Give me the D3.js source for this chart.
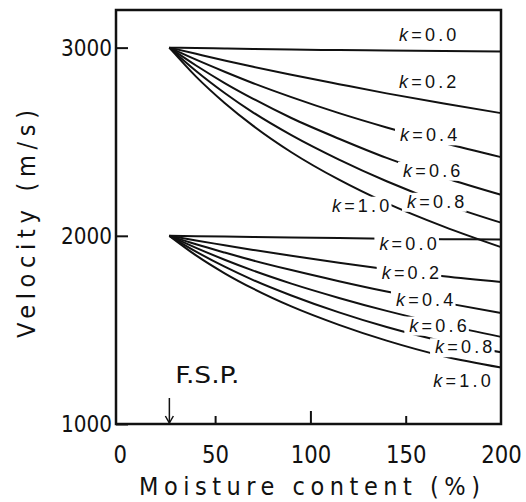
<!DOCTYPE html>
<html lang="en">
<head>
  <meta charset="UTF-8">
  <title>Velocity vs moisture content</title>
  <script src="https://cdn.jsdelivr.net/npm/d3@7"></script>
  <style>
    body { margin: 0; background: #fff; }
    .axis text, .title, .fsp {
      font-family: "DejaVu Sans Condensed", "Liberation Sans Narrow", "DejaVu Sans", sans-serif;
      fill: #111;
    }
    .klabel {
      font-family: "Liberation Sans", Arial, sans-serif;
      font-size: 18px;
      letter-spacing: 3.2px;
      fill: #111;
    }
    .curve { fill: none; stroke: #111; stroke-width: 2; stroke-linejoin: round; }
  </style>
</head>
<body>
<div id="chart"></div>
<script>
// moisture content (%) where the curves are sampled, from F.S.P. up to 200
var moisture = [26, 40, 55, 70, 90, 115, 140, 170, 200];
var fsp = 26;
var kValues = ["0.0", "0.2", "0.4", "0.6", "0.8", "1.0"];

// velocity (m/s), upper family starts at 3000, lower at 2000
var upperCurves = [
  [3000, 2998, 2995, 2993, 2990, 2987, 2985, 2982, 2979],
  [3000, 2967, 2932, 2898, 2856, 2806, 2757, 2703, 2652],
  [3000, 2936, 2872, 2811, 2737, 2652, 2576, 2493, 2418],
  [3000, 2905, 2812, 2728, 2626, 2516, 2414, 2310, 2218],
  [3000, 2876, 2759, 2655, 2535, 2405, 2290, 2170, 2070],
  [3000, 2846, 2706, 2584, 2444, 2298, 2174, 2049, 1940]
];
var lowerCurves = [
  [2000, 1998, 1996, 1994, 1991, 1988, 1985, 1982, 1980],
  [2000, 1975, 1950, 1925, 1894, 1857, 1822, 1785, 1755],
  [2000, 1955, 1911, 1869, 1818, 1759, 1704, 1645, 1590],
  [2000, 1936, 1873, 1815, 1746, 1670, 1601, 1528, 1463],
  [2000, 1916, 1836, 1765, 1683, 1593, 1515, 1438, 1381],
  [2000, 1896, 1801, 1719, 1625, 1527, 1443, 1360, 1300]
];

var xTicks = [0, 50, 100, 150, 200];
var yTicks = [1000, 2000, 3000];

// where the k labels sit (moisture, velocity of baseline)
var upperLabelAt = [[146.5, 3034], [146.5, 2787], [147, 2502], [148.6, 2314], [150.7, 2149], [111.3, 2128]];
var lowerLabelAt = [[136.2, 1926], [137.4, 1770], [144.9, 1628], [151.9, 1491], [165.4, 1376], [164.5, 1198]];

var margin = {top: 10, right: 25, bottom: 78, left: 116},
    width = 526 - margin.left - margin.right,
    height = 502 - margin.top - margin.bottom;

var svg = d3.select("#chart")
  .append("svg")
    .attr("width", 526)
    .attr("height", 502)
  .append("g")
    .attr("transform", "translate(" + margin.left + "," + margin.top + ")");

var x = d3.scaleLinear().domain([-2, 200]).range([0, width]);
var y = d3.scaleLinear().domain([1000, 3200]).range([height, 0]);

var line = d3.line()
  .x(function(d) { return x(d[0]); })
  .y(function(d) { return y(d[1]); })
  .curve(d3.curveMonotoneX);

function drawFamily(curves, labelAt) {
  curves.forEach(function(vals) {
    svg.append("path")
      .attr("class", "curve")
      .attr("d", line(vals.map(function(v, i) { return [moisture[i], v]; })));
  });
  // labels knock out the lines behind them
  kValues.forEach(function(k, i) {
    var g = svg.append("g");
    var bg = g.append("rect").attr("fill", "#fff");
    var t = g.append("text")
      .attr("class", "klabel")
      .attr("x", x(labelAt[i][0]))
      .attr("y", y(labelAt[i][1]));
    t.append("tspan").attr("font-style", "italic").text("k");
    t.append("tspan").text("=" + k);
    var b = t.node().getBBox();
    var by = y(labelAt[i][1]);
    bg.attr("x", b.x - 5).attr("width", b.width + 4)
      .attr("y", by - 15).attr("height", 19);
  });
}

drawFamily(upperCurves, upperLabelAt);
drawFamily(lowerCurves, lowerLabelAt);

// frame
svg.append("rect")
  .attr("width", width)
  .attr("height", height)
  .attr("fill", "none")
  .attr("stroke", "#111")
  .attr("stroke-width", 2.5);

// x axis, ticks pointing inward
var xAxis = svg.append("g")
  .attr("class", "axis")
  .attr("transform", "translate(0," + height + ")")
  .call(d3.axisBottom(x).tickValues(xTicks).tickSize(-8).tickPadding(21));
xAxis.select(".domain").remove();
xAxis.selectAll(".tick line")
  .attr("stroke", "#111").attr("stroke-width", 2)
  .attr("y2", function(d) { return d === 100 ? -13 : -8; })
  .style("display", function(d) { return (d === 0 || d === 200) ? "none" : null; });
xAxis.selectAll("text")
  .style("font-size", "25px")
  .attr("textLength", function(d) { return 13.5 * String(d).length; })
  .attr("lengthAdjust", "spacingAndGlyphs");

// y axis
var yAxis = svg.append("g")
  .attr("class", "axis")
  .call(d3.axisLeft(y).tickValues(yTicks).tickFormat(d3.format("d")).tickSize(-12).tickPadding(4));
yAxis.select(".domain").remove();
yAxis.selectAll(".tick line").attr("stroke", "#111").attr("stroke-width", 2);
yAxis.selectAll("text")
  .style("font-size", "23px")
  .attr("textLength", 51)
  .attr("lengthAdjust", "spacingAndGlyphs");

// F.S.P. marker
var ax = x(fsp);
svg.append("line")
  .attr("x1", ax).attr("x2", ax)
  .attr("y1", height - 26).attr("y2", height - 1)
  .attr("stroke", "#111").attr("stroke-width", 1.5);
svg.append("path")
  .attr("d", "M" + (ax - 4) + "," + (height - 8) + "L" + ax + "," + (height - 1) + "L" + (ax + 4) + "," + (height - 8))
  .attr("fill", "none").attr("stroke", "#111").attr("stroke-width", 1.5);
svg.append("text")
  .attr("class", "fsp")
  .attr("x", ax + 6)
  .attr("y", height - 41)
  .style("font-size", "23px")
  .attr("textLength", 64)
  .attr("lengthAdjust", "spacingAndGlyphs")
  .text("F.S.P.");

// axis titles
svg.append("text")
  .attr("class", "title")
  .attr("x", 23)
  .attr("y", height + 71)
  .attr("textLength", 341)
  .attr("lengthAdjust", "spacing")
  .style("font-size", "25px")
  .text("Moisture content (%)");

svg.append("text")
  .attr("class", "title")
  .attr("transform", "translate(-81,328) rotate(-90)")
  .attr("textLength", 228)
  .attr("lengthAdjust", "spacing")
  .style("font-size", "25px")
  .text("Velocity (m/s)");
</script>
</body>
</html>
